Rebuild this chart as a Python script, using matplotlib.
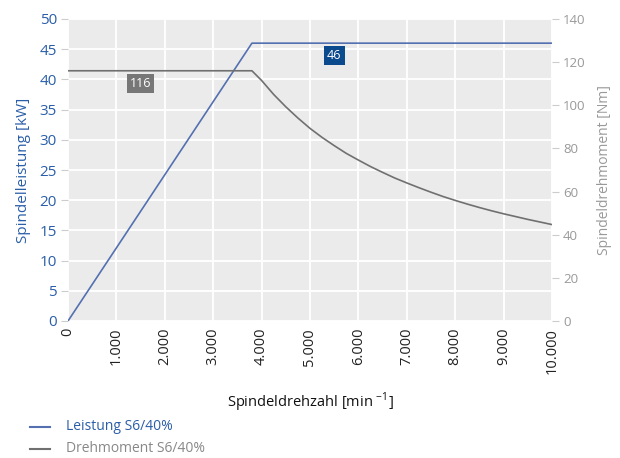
import matplotlib.pyplot as plt
from matplotlib.lines import Line2D

plt.rcParams['font.family'] = ['Open Sans', 'DejaVu Sans']

# Leistung S6/40% [kW] über Drehzahl [min^-1]
drehzahl_p = [0, 3800, 10000]
leistung = [0, 46, 46]

# Drehmoment S6/40% [Nm]
drehzahl_m = [0, 3800, 4000, 4250, 4500, 4750, 5000, 5250, 5500, 5750, 6000, 6250, 6500,
              6750, 7000, 7250, 7500, 7750, 8000, 8250, 8500, 8750, 9000, 9250, 9500, 9750, 10000]
drehmoment = [116, 116, 111.5, 105, 99.3, 94.1, 89.3, 85.1, 81.3, 77.7, 74.6, 71.6, 68.9,
              66.3, 64, 61.8, 59.7, 57.7, 55.9, 54.2, 52.6, 51.1, 49.7, 48.4, 47.1, 45.9, 44.7]

x_ticks = [0, 1000, 2000, 3000, 4000, 5000, 6000, 7000, 8000, 9000, 10000]
x_labels = ['0', '1.000', '2.000', '3.000', '4.000', '5.000', '6.000', '7.000', '8.000', '9.000', '10.000']

blau = '#5470b0'
blau_text = '#2a5ea8'
grau = '#707070'
grau_text = '#999999'

fig = plt.figure(figsize=(6.2, 4.58), dpi=100)
ax = fig.add_axes([68 / 620, 1 - 321 / 458, 484 / 620, 302 / 458])
ax2 = ax.twinx()

ax.set_facecolor('#ebebeb')
ax.set_xlim(0, 10000)
ax.set_ylim(0, 50)
ax2.set_ylim(0, 140)
ax.set_xticks(x_ticks)
ax.set_xticklabels(x_labels, rotation=90, fontsize=10.5, color='#222222')
ax.set_yticks(range(0, 51, 5))
ax2.set_yticks(range(0, 141, 20))
ax.grid(True, color='white', linewidth=1.3)
ax.set_axisbelow(True)

for a in (ax, ax2):
    for s in a.spines.values():
        s.set_visible(False)

ax.tick_params(axis='y', colors='#cccccc', labelcolor=blau_text, labelsize=11, length=5, pad=3)
ax.tick_params(axis='x', length=0, pad=5)
ax2.tick_params(axis='y', colors='#cccccc', labelcolor=grau_text, labelsize=9.5, length=5, pad=3)

ax.plot(drehzahl_p, leistung, color=blau, linewidth=1.2, zorder=3)
ax2.plot(drehzahl_m, drehmoment, color=grau, linewidth=1.2, zorder=3)

# Wertmarken
ax.text(5500, 44, '46', color='white', fontsize=9, ha='center', va='center',
        bbox=dict(boxstyle='square,pad=0.25', fc='#0b4a8c', ec='none'), zorder=5)
ax2.text(1500, 110, '116', color='white', fontsize=9, ha='center', va='center',
         bbox=dict(boxstyle='square,pad=0.25', fc='#777777', ec='none'), zorder=5)

ax.set_ylabel('Spindelleistung [kW]', color=blau_text, fontsize=11, labelpad=6)
ax2.set_ylabel('Spindeldrehmoment [Nm]', color=grau_text, fontsize=10, labelpad=8)
ax.set_xlabel('Spindeldrehzahl [min $^{\\mathregular{-1}}$]', fontsize=10.5, color='#111111', labelpad=12)

# Legende unten links
fig.add_artist(Line2D([30 / 620, 50 / 620], [1 - 427 / 458] * 2, color=blau, linewidth=1.5))
fig.text(66 / 620, 1 - 427 / 458, 'Leistung S6/40%', color=blau_text, fontsize=10, va='center')
fig.add_artist(Line2D([30 / 620, 50 / 620], [1 - 449 / 458] * 2, color=grau, linewidth=1.5))
fig.text(66 / 620, 1 - 449 / 458, 'Drehmoment S6/40%', color='#888888', fontsize=10, va='center')

fig.savefig('out.png', dpi=100)
